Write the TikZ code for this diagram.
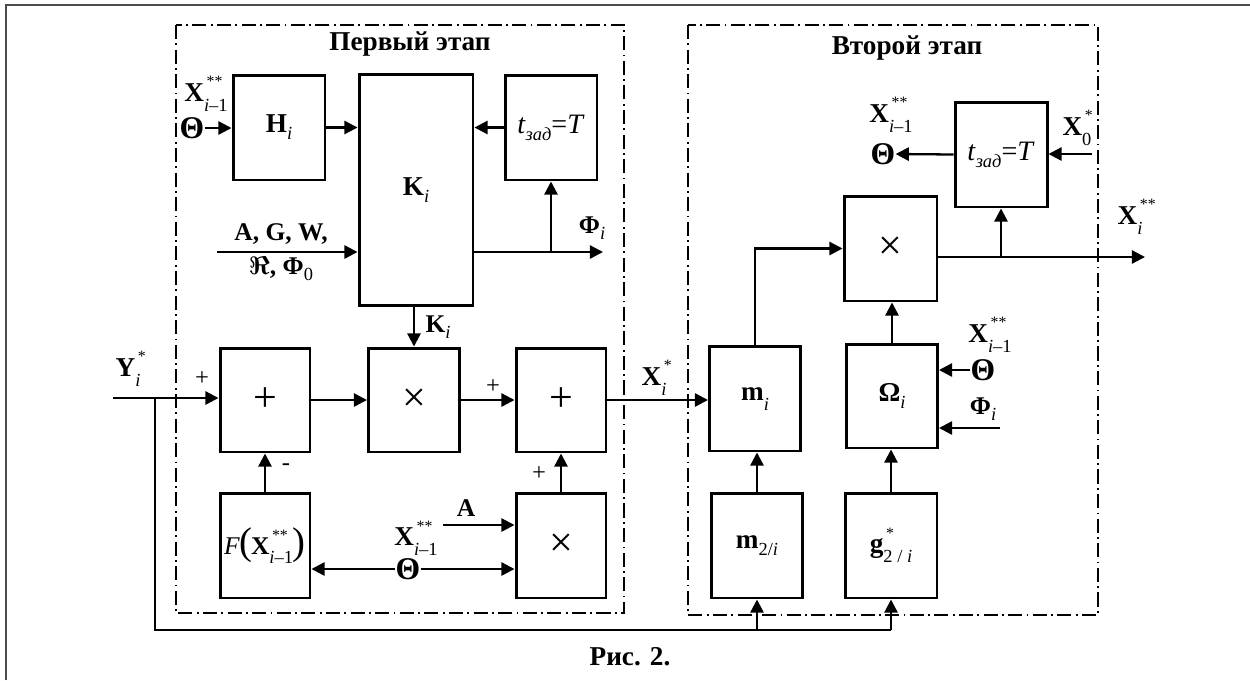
\documentclass[tikz,border=0pt]{standalone}
\usepackage{amsmath}
\usepackage{fontspec}
\setmainfont{Liberation Serif}
\usepackage{tikz}
\usetikzlibrary{arrows.meta, positioning}

\newcommand{\lsub}[1]{\raisebox{-0.55ex}{\fontsize{10.5}{10.5}\selectfont\mdseries #1}}
\newcommand{\supsub}[2]{\rlap{\raisebox{1.15ex}{\fontsize{9}{9}\selectfont\mdseries\,#1}}\raisebox{-0.8ex}{\fontsize{10.5}{10.5}\selectfont\mdseries #2}}
\newcommand{\Xpp}{\textbf{X}\supsub{**}{\textit{i}–1}}
\newcommand{\tzad}{\textit{t}\lsub{\textit{зад}}=\textit{T}}

\begin{document}
\begin{tikzpicture}[x=0.02cm, y=-0.02cm,
    blk/.style 2 args={draw, line width=1.7pt, minimum width=#1cm, minimum height=#2cm, inner sep=0pt,
      font=\bfseries\fontsize{15.5}{17}\selectfont},
    sgn/.style={font=\fontsize{24}{24}\selectfont},
    tz/.style={font=\fontsize{16}{17}\selectfont},
    lbl/.style={inner sep=0pt, font=\bfseries\fontsize{14.5}{16}\selectfont},
    big/.style={inner sep=0pt, font=\bfseries\fontsize{18}{18}\selectfont},
    pm/.style={inner sep=0pt, font=\fontsize{14}{16}\selectfont},
    arr/.style={line width=1.3pt, -{Triangle[length=7.5pt, width=7.5pt]}},
    ln/.style={line width=1.3pt},
    stage/.style={line width=0.8pt, dash pattern=on 8pt off 2.5pt on 1pt off 2.5pt}]
    \useasboundingbox (0,0) rectangle (1250,680);

    % frame
    \draw[line width=0.6pt, black!70] (6,680) -- (6,5) -- (1250,5);

    % stages
    \draw[stage] (176,25) rectangle (624,613);
    \draw[stage] (688,25) rectangle (1098,615);
    \node[lbl, font=\bfseries\fontsize{15.5}{17}\selectfont] (st1) at (410,44) {Первый этап};
    \node[lbl, font=\bfseries\fontsize{15.5}{17}\selectfont] (st2) at (907,48) {Второй этап};

    % blocks of the first stage
    \node[blk={1.84}{2.1}] (H) at (279,127.5) {H\lsub{\textit{i}}};
    \node[blk={2.28}{4.62}] (K) at (416,190) {K\lsub{\textit{i}}};
    \node[blk={1.84}{2.1}, tz] (T1) at (551,127.5) {\tzad};
    \node[blk={1.8}{2.08}, sgn] (P1) at (265,400) {+};
    \node[blk={1.82}{2.08}, sgn] (M1) at (414,400) {×};
    \node[blk={1.8}{2.08}, sgn] (P2) at (561,400) {+};
    \node[blk={1.8}{2.1}, font=\fontsize{14.5}{17}\selectfont] (F) at (265,545.5)
        {\textit{F}\kern-0.5pt{\fontsize{22}{22}\selectfont(}\kern-0.5pt\Xpp{\fontsize{22}{22}\selectfont)}};
    \node[blk={1.8}{2.1}, sgn] (M2) at (561,545.5) {×};

    % blocks of the second stage
    \node[blk={1.82}{2.1}] (mi) at (755,398.5) {m\supsub{}{\textit{i}}};
    \node[blk={1.82}{2.1}] (m2) at (757,545.5) {m\lsub{2/\textit{i}}};
    \node[blk={1.82}{2.08}] (Om) at (892,396) {Ω\lsub{\textit{i}}};
    \node[blk={1.84}{2.1}] (g) at (891,545.5) {g\supsub{*}{2 / \textit{i}}};
    \node[blk={1.86}{2.1}, sgn] (M3) at (890.5,248.5) {×};
    \node[blk={1.84}{2.1}, tz] (T2) at (1001,154.5) {\tzad};

    % inputs of K
    \node[lbl, font=\bfseries\fontsize{15.5}{17}\selectfont] (xa) at (206,94) {\Xpp};
    \node[big] (tha) at (192,128) {Θ};
    \draw[arr] (tha.east) -- (tha.east -| H.west);
    \draw[arr] (H.east) -- (H.east -| K.west);
    \draw[arr] (T1.west) -- (T1.west -| K.east);
    \coordinate (kin) at (217,252);
    \draw[arr] (kin) -- (kin -| K.west);
    \node[lbl] (agw) at (281,234) {A, G, W,};
    \node[lbl] (rf) at (281,269) {$\boldsymbol{\Re}$, Φ\lsub{0}};

    % output of K
    \coordinate (fout) at (603,252);
    \draw[arr] (fout -| K.east) -- (fout);
    \draw[arr] (T1.south |- fout) -- (T1.south);
    \node[lbl] (fi1) at (592,228) {Φ\lsub{\textit{i}}};
    \draw[arr] (K.south -| M1.north) -- (M1.north);
    \node[lbl] (ki) at (438,327) {K\lsub{\textit{i}}};

    % lower chain of the first stage
    \coordinate (yin) at (113,398);
    \coordinate (ybr) at (155,398);
    \coordinate (ybot) at (155,630);
    \draw[arr] (yin) -- (yin -| P1.west);
    \node[lbl, font=\bfseries\fontsize{15.5}{17}\selectfont] (yi) at (128,369) {Y\supsub{*}{\textit{i}}};
    \node[pm] (s1) at (202,379) {+};
    \draw[arr] (P1.east) -- (M1.west);
    \draw[arr] (M1.east) -- (P2.west);
    \node[pm] (s2) at (493,387) {+};
    \draw[arr] (F.north) -- (P1.south);
    \node[pm] (s3) at (286,467) {-};
    \draw[arr] (M2.north) -- (P2.south);
    \node[pm] (s4) at (539,474) {+};
    \coordinate (ain) at (443,525);
    \draw[arr] (ain) -- (ain -| M2.west);
    \node[lbl] (a2) at (466,508) {A};
    \node[lbl, font=\bfseries\fontsize{15.5}{17}\selectfont] (xb) at (416,538) {\Xpp};
    \node[big] (thb) at (408,569) {Θ};
    \draw[arr] (thb.west) -- (thb.west -| F.east);
    \draw[arr] (thb.east) -- (thb.east -| M2.west);

    % link between the stages
    \draw[arr] (P2.east) -- (P2.east -| mi.west);
    \node[lbl, font=\bfseries\fontsize{15.5}{17}\selectfont] (xi) at (654,378) {X\supsub{*}{\textit{i}}};
    \draw[ln] (ybr) -- (ybot) -- (ybot -| g.south);
    \draw[arr] (ybot -| m2.south) -- (m2.south);
    \draw[arr] (ybot -| g.south) -- (g.south);

    % second stage
    \draw[arr] (m2.north) -- (m2.north |- mi.south);
    \draw[arr] (g.north) -- (g.north |- Om.south);
    \draw[arr] (mi.north) |- (M3.west);
    \draw[arr] (Om.north) -- (Om.north |- M3.south);
    \coordinate (xout) at (1145,257);
    \draw[arr] (xout -| M3.east) -- (xout);
    \draw[arr] (T2.south |- xout) -- (T2.south);
    \node[lbl, font=\bfseries\fontsize{15.5}{17}\selectfont] (xii) at (1130,217) {X\supsub{**}{\textit{i}}};
    \coordinate (x0in) at (1092,154);
    \draw[arr] (x0in) -- (x0in -| T2.east);
    \node[lbl, font=\bfseries\fontsize{15.5}{17}\selectfont] (x0) at (1077,128) {X\supsub{*}{0}};
    \node[big] (thc) at (883,154) {Θ};
    \draw[arr] (T2.west) -- (thc.east);
    \node[lbl, font=\bfseries\fontsize{15.5}{17}\selectfont] (xc) at (891,115) {\Xpp};
    \node[big] (thd) at (983,370) {Θ};
    \draw[arr] (thd.west) -- (thd.west -| Om.east);
    \node[lbl, font=\bfseries\fontsize{15.5}{17}\selectfont] (xd) at (990,335) {\Xpp};
    \coordinate (fin) at (1000,428);
    \draw[arr] (fin) -- (fin -| Om.east);
    \node[lbl] (fi2) at (983,409) {Φ\lsub{\textit{i}}};

    % caption
    \node[lbl, font=\bfseries\fontsize{15.5}{17}\selectfont] (cap) at (630,657) {Рис. 2.};
\end{tikzpicture}
\end{document}
